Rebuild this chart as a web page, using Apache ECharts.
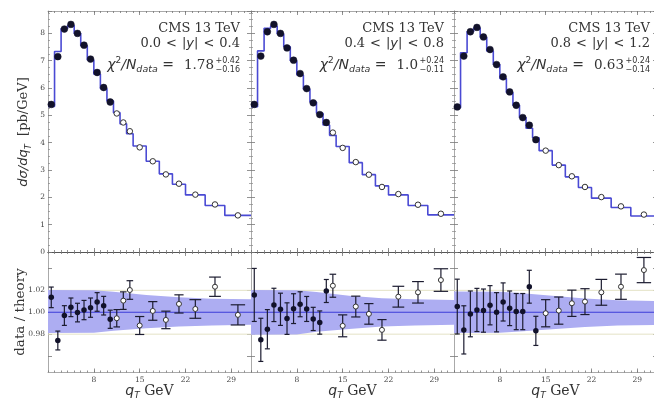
<!DOCTYPE html>
<html><head><meta charset="utf-8">
<script src="https://cdn.jsdelivr.net/npm/echarts@6/dist/echarts.min.js"></script>
<style>html,body{margin:0;padding:0;background:#fff;overflow:hidden}#c{width:654px;height:405px}</style>
</head><body><div id="c"></div>
<script>
// ---------- data ----------
const binEdges = [1,2,3,4,5,6,7,8,9,10,11,12,13,14,16,18,20,22,25,28,32];
const qtCenters = [1.5,2.5,3.5,4.5,5.5,6.5,7.5,8.5,9.5,10.5,11.5,12.5,13.5,15,17,19,21,23.5,26.5,30];
const xTickLabels = [8,15,22,29];
const ratioTicks = [0.96,0.98,1.00,1.02,1.04];
const ratioTickLabels = [0.98,1.00,1.02];
const ratioGuides = [0.98,1.02];
const ratioUnity = 1.0;
const nFilled = [10,12,13];
const yLow = ['0.0','0.4','0.8'];
const yHigh = ['0.4','0.8','1.2'];
const chi2 = ['1.78','1.0','0.63'];
const chi2Up = ['+0.42','+0.24','+0.24'];
const chi2Down = ['\u22120.16','\u22120.11','\u22120.14'];

const xsecY1 = [5.40,7.15,8.16,8.33,8.00,7.57,7.06,6.57,6.02,5.49,5.07,4.74,4.42,3.83,3.32,2.84,2.50,2.10,1.74,1.34];
const xsecY2 = [5.40,7.17,8.06,8.33,8.00,7.47,7.02,6.53,5.98,5.46,5.03,4.74,4.37,3.81,3.29,2.83,2.38,2.12,1.73,1.40];
const xsecY3 = [5.31,7.17,8.06,8.22,7.87,7.41,6.86,6.41,5.86,5.37,4.92,4.64,4.11,3.71,3.18,2.77,2.38,2.01,1.67,1.37];

const theoryY1 = [5.33,7.34,8.18,8.29,8.00,7.55,7.03,6.51,5.98,5.53,5.10,4.69,4.33,3.88,3.32,2.86,2.48,2.09,1.70,1.34];
const theoryY2 = [5.32,7.36,8.19,8.27,7.98,7.51,7.00,6.48,5.96,5.49,5.08,4.65,4.27,3.86,3.27,2.83,2.42,2.09,1.70,1.36];
const theoryY3 = [5.28,7.29,8.07,8.20,7.86,7.36,6.86,6.35,5.84,5.37,4.92,4.53,4.18,3.71,3.18,2.75,2.36,1.97,1.63,1.32];

const ratioY1 = [1.0136,0.9742,0.9970,1.0045,0.9997,1.0020,1.0042,1.0094,1.0060,0.9936,0.9945,1.0106,1.0203,0.9879,1.0012,0.9930,1.0076,1.0030,1.0233,0.9976];
const ratioY2 = [1.0158,0.9748,0.9845,1.0067,1.0027,0.9942,1.0033,1.0073,1.0030,0.9939,0.9906,1.0194,1.0242,0.9876,1.0052,0.9985,0.9839,1.0142,1.0182,1.0294];
const ratioY3 = [1.0052,0.9839,0.9985,1.0021,1.0015,1.0064,1.0000,1.0094,1.0036,1.0006,1.0006,1.0233,0.9830,0.9991,1.0015,1.0082,1.0097,1.0182,1.0233,1.0385];

const ratioErrY1 = [0.0094,0.0086,0.0090,0.0085,0.0085,0.0088,0.0088,0.0085,0.0085,0.0083,0.0079,0.0080,0.0085,0.0082,0.0085,0.0080,0.0083,0.0085,0.0088,0.0092];
const ratioErrY2 = [0.0242,0.0197,0.0179,0.0152,0.0147,0.0144,0.0136,0.0114,0.0114,0.0106,0.0106,0.0105,0.0105,0.0100,0.0095,0.0094,0.0094,0.0095,0.0098,0.0103];
const ratioErrY3 = [0.0250,0.0220,0.0209,0.0197,0.0197,0.0179,0.0179,0.0174,0.0158,0.0165,0.0165,0.0150,0.0133,0.0124,0.0124,0.0120,0.0118,0.0118,0.0115,0.0115];

const bandX = [1,8,11,16,21,26,32];
const bandUpY1 = [1.0203,1.0200,1.0187,1.0157,1.0136,1.0124,1.0118];
const bandLoY1 = [0.9810,0.9812,0.9830,0.9855,0.9870,0.9880,0.9885];
const bandUpY2 = [1.0203,1.0200,1.0185,1.0151,1.0127,1.0118,1.0112];
const bandLoY2 = [0.9794,0.9797,0.9821,0.9848,0.9870,0.9880,0.9885];
const bandUpY3 = [1.0190,1.0186,1.0175,1.0150,1.0125,1.0110,1.0103];
const bandLoY3 = [0.9810,0.9812,0.9825,0.9845,0.9866,0.9880,0.9885];

// ---------- build ----------
const xsec = [xsecY1,xsecY2,xsecY3];
const theory = [theoryY1,theoryY2,theoryY3];
const ratio = [ratioY1,ratioY2,ratioY3];
const ratioErr = [ratioErrY1,ratioErrY2,ratioErrY3];
const bandUp = [bandUpY1,bandUpY2,bandUpY3];
const bandLo = [bandLoY1,bandLoY2,bandLoY3];

const SERIF = 'DejaVu Serif';
const SANS = 'DejaVu Sans';
const panelLeft = [48,251,454];
const panelW = 203;
const rightX = [240,444,650];

const grids = [], xAxes = [], yAxes = [], series = [], info = [];

function mkX(gi,pos,major,labels,dark){
  const ax = {gridIndex:gi,type:'value',min:1,max:32,position:pos,splitLine:{show:false},
    axisLine:{show:major,onZero:false,lineStyle:{color:dark?'#555':'#aaa',width:1}},
    axisLabel:{show:labels,fontFamily:SERIF,fontSize:7.5,color:'#444',margin:4},
    axisTick:{show:true,inside:true,length:major?4:2,lineStyle:{color:'#777',width:0.8}}};
  if(major){ax.axisTick.customValues=xTickLabels;ax.axisLabel.customValues=xTickLabels;}
  else ax.interval=1;
  return ax;
}
function mkY(gi,pos,row,labels){
  const ax = {gridIndex:gi,type:'value',position:pos,splitLine:{show:false},
    axisLine:{show:true,onZero:false,lineStyle:{color:'#aaa',width:1}},
    axisTick:{show:true,inside:true,length:4,lineStyle:{color:'#777',width:0.8}},
    axisLabel:{show:labels,fontFamily:SERIF,fontSize:7.5,color:'#444',margin:3}};
  if(row===0){
    ax.min=0;ax.max=8.82;ax.interval=1;
    ax.minorTick={show:true,splitNumber:4,length:2,lineStyle:{color:'#888',width:0.7}};
    ax.axisLabel.showMaxLabel=false;
  } else {
    ax.min=0.945;ax.max=1.055;
    ax.axisTick.customValues=ratioTicks;
    ax.axisLabel.customValues=ratioTickLabels;
    ax.axisLabel.formatter=v=>Number(v).toFixed(2);
  }
  return ax;
}

for(let row=0;row<2;row++) for(let p=0;p<3;p++){
  const gi = grids.length;
  grids.push({left:panelLeft[p],top:row?252:11,width:panelW,height:row?120.5:241,containLabel:false,outerBoundsMode:'none'});
  const xMain = xAxes.length;
  xAxes.push(mkX(gi,'bottom',true,row===1,row===0));
  xAxes.push(mkX(gi,'bottom',false,false,false));
  xAxes.push(mkX(gi,'top',true,false,row===1));
  xAxes.push(mkX(gi,'top',false,false,false));
  const yMain = yAxes.length;
  yAxes.push(mkY(gi,'left',row,p===0));
  yAxes.push(mkY(gi,'right',row,false));
  info.push({xMain,yMain});
}

for(let p=0;p<3;p++){
  const T = info[p], B = info[3+p];
  const hist = [];
  for(let i=0;i<theory[p].length;i++) hist.push([binEdges[i],theory[p][i]]);
  hist.push([binEdges[binEdges.length-1],theory[p][theory[p].length-1]]);
  series.push({type:'line',xAxisIndex:T.xMain,yAxisIndex:T.yMain,data:hist,step:'end',showSymbol:false,
    lineStyle:{color:'#4a4ad4',width:1.6},z:2,silent:true,animation:false});
  const filledTop=[],openTop=[],filledBot=[],openBot=[],errs=[];
  for(let i=0;i<qtCenters.length;i++){
    const f = i<nFilled[p];
    (f?filledTop:openTop).push([qtCenters[i],xsec[p][i]]);
    (f?filledBot:openBot).push([qtCenters[i],ratio[p][i]]);
    errs.push([qtCenters[i],ratio[p][i],ratioErr[p][i],f?1:0,binEdges[i+1]-binEdges[i]]);
  }
  series.push({type:'scatter',xAxisIndex:T.xMain,yAxisIndex:T.yMain,data:filledTop,symbolSize:6.8,
    itemStyle:{color:'#12122a',borderColor:'#12122a',borderWidth:0.5,opacity:1},z:4,animation:false});
  series.push({type:'scatter',xAxisIndex:T.xMain,yAxisIndex:T.yMain,data:openTop,symbolSize:5.5,
    itemStyle:{color:'#fff',borderColor:'#333',borderWidth:1,opacity:1},z:4,animation:false});
  series.push({type:'custom',xAxisIndex:B.xMain,yAxisIndex:B.yMain,data:[[bandX[0],ratioUnity]],clip:true,z:1,silent:true,animation:false,
    renderItem:(params,api)=>{
      const ch=[];
      ratioGuides.forEach(g=>{const a=api.coord([binEdges[0],g]),b=api.coord([binEdges[binEdges.length-1],g]);
        ch.push({type:'line',shape:{x1:a[0],y1:a[1],x2:b[0],y2:b[1]},style:{stroke:'#e4e2c6',lineWidth:1}});});
      const pts=[];
      for(let i=0;i<bandX.length;i++) pts.push(api.coord([bandX[i],bandUp[p][i]]));
      for(let i=bandX.length-1;i>=0;i--) pts.push(api.coord([bandX[i],bandLo[p][i]]));
      ch.push({type:'polygon',shape:{points:pts},style:{fill:'#adadf2'}});
      const a=api.coord([binEdges[0],ratioUnity]),b=api.coord([binEdges[binEdges.length-1],ratioUnity]);
      ch.push({type:'line',shape:{x1:a[0],y1:a[1],x2:b[0],y2:b[1]},style:{stroke:'#3c3cd8',lineWidth:1.2}});
      return {type:'group',children:ch};
    }});
  series.push({type:'custom',xAxisIndex:B.xMain,yAxisIndex:B.yMain,data:errs,z:3,silent:true,animation:false,
    renderItem:(params,api)=>{
      const x=api.value(0),y=api.value(1),e=api.value(2),f=api.value(3),w=api.value(4);
      const t=api.coord([x,y+e]),b=api.coord([x,y-e]);
      const h=f?2.5:2+1.3*w;
      const st={stroke:'#1c1c30',lineWidth:1.2};
      return {type:'group',children:[
        {type:'line',shape:{x1:t[0],y1:t[1],x2:b[0],y2:b[1]},style:st},
        {type:'line',shape:{x1:t[0]-h,y1:t[1],x2:t[0]+h,y2:t[1]},style:st},
        {type:'line',shape:{x1:b[0]-h,y1:b[1],x2:b[0]+h,y2:b[1]},style:st}]};
    }});
  series.push({type:'scatter',xAxisIndex:B.xMain,yAxisIndex:B.yMain,data:filledBot,symbolSize:5.5,
    itemStyle:{color:'#12122a',opacity:1},z:5,animation:false});
  series.push({type:'scatter',xAxisIndex:B.xMain,yAxisIndex:B.yMain,data:openBot,symbolSize:5,
    itemStyle:{color:'#fff',borderColor:'#333',borderWidth:1,opacity:1},z:5,animation:false});
}

// ---------- texts ----------
const graphic = [];
const txtColor = '#333';
function T(o){ o.style.align=o.style.textAlign; o.style.verticalAlign=o.style.textVerticalAlign; graphic.push(o); }
for(let p=0;p<3;p++){
  const rx = rightX[p];
  T({type:'text',x:rx,y:29,z:100,style:{text:'CMS 13 TeV',fontFamily:SERIF,fontSize:13,fill:txtColor,textAlign:'right',textVerticalAlign:'middle'}});
  T({type:'text',x:rx,y:43.5,z:100,style:{text:'{n|'+yLow[p]+'}{o|<}{m||y|}{o|<}{n|'+yHigh[p]+'}',textAlign:'right',textVerticalAlign:'middle',fill:txtColor,
    rich:{n:{fontFamily:SERIF,fontSize:13,fill:txtColor},o:{fontFamily:SERIF,fontSize:13,fill:txtColor,padding:[0,5,0,5]},
          m:{fontFamily:SANS,fontStyle:'italic',fontSize:13,fill:txtColor}}}});
  T({type:'text',x:rx-26,y:65,z:100,style:{text:'{m|\u03c7}{sup|2}{m|/N}{sub|data}{m| =}{n|'+chi2[p]+'}',textAlign:'right',textVerticalAlign:'middle',fill:txtColor,
    rich:{m:{fontFamily:SANS,fontStyle:'italic',fontSize:14,fill:txtColor,lineHeight:20},
          sup:{fontFamily:SANS,fontSize:9,fill:txtColor,verticalAlign:'top',lineHeight:20,padding:[1,0,0,0]},
          sub:{fontFamily:SANS,fontStyle:'italic',fontSize:9.5,fill:txtColor,verticalAlign:'bottom',lineHeight:20},
          n:{fontFamily:SERIF,fontSize:13.5,fill:txtColor,lineHeight:20,padding:[0,0,0,10]}}}});
  T({type:'text',x:rx,y:60.5,z:100,style:{text:chi2Up[p],fontFamily:SANS,fontSize:8,fill:txtColor,textAlign:'right',textVerticalAlign:'middle'}});
  T({type:'text',x:rx,y:69.5,z:100,style:{text:chi2Down[p],fontFamily:SANS,fontSize:8,fill:txtColor,textAlign:'right',textVerticalAlign:'middle'}});
  T({type:'text',x:panelLeft[p]+panelW/2,y:391,z:100,style:{text:'{m|q}{s|T}{n| GeV}',textAlign:'center',textVerticalAlign:'middle',fill:txtColor,
    rich:{m:{fontFamily:SANS,fontStyle:'italic',fontSize:14,fill:txtColor,lineHeight:18},
          s:{fontFamily:SANS,fontStyle:'italic',fontSize:9,fill:txtColor,verticalAlign:'bottom',lineHeight:18},
          n:{fontFamily:SERIF,fontSize:14,fill:txtColor,lineHeight:18}}}});
}
T({type:'text',x:24,y:132,rotation:Math.PI/2,z:100,style:{text:'{m|d\u03c3/dq}{s|T}{n|  [pb/GeV]}',textAlign:'center',textVerticalAlign:'middle',fill:txtColor,
  rich:{m:{fontFamily:SANS,fontStyle:'italic',fontSize:13,fill:txtColor,lineHeight:18},
        s:{fontFamily:SANS,fontStyle:'italic',fontSize:8.5,fill:txtColor,verticalAlign:'bottom',lineHeight:18},
        n:{fontFamily:SERIF,fontSize:13,fill:txtColor,lineHeight:18}}}});
T({type:'text',x:20,y:312,rotation:Math.PI/2,z:100,style:{text:'data / theory',fontFamily:SERIF,fontSize:13.5,fill:txtColor,textAlign:'center',textVerticalAlign:'middle'}});

const chart = echarts.init(document.getElementById('c'),null,{renderer:'canvas'});
chart.setOption({animation:false,backgroundColor:'#fff',grid:grids,xAxis:xAxes,yAxis:yAxes,series:series,graphic:graphic});
</script></body></html>
